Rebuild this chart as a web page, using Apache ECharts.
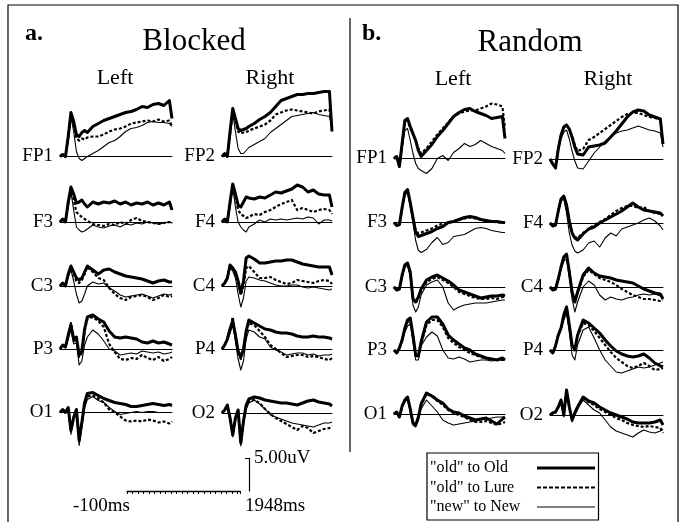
<!DOCTYPE html>
<html><head><meta charset="utf-8">
<script src="https://cdn.jsdelivr.net/npm/echarts@6/dist/echarts.min.js"></script>
<style>html,body{margin:0;padding:0;background:#fff}#c{width:684px;height:522px}</style>
</head><body><div id="c"></div>
<script>
// sample times (ms) shared by every trace
const TIMES = [-100,-50,0,50,100,150,200,250,300,350,400,500,600,700,800,900,1000,1100,1200,1300,1400,1500,1600,1700,1800,1900,1948];
// amplitudes in calibration units (33 units = the 5.00uV bar), up = as drawn
const PX_PER_UV = 33 / 5.0;

// ---- a. Blocked, Left hemisphere
const blkFP1_old  = [0,2,0,20,44,35,22,20,24,26,24,30,33,36,38,40,42,44,45,47,50,49,52,53,51,56,38];
const blkFP1_lure = [0,2,0,18,42,32,18,16,18,17,19,20,20,22,25,27,28,30,33,34,35,36,35,37,35,36,30];
const blkFP1_new  = [0,1,0,15,40,25,5,-2,-4,-2,0,3,6,10,14,16,20,25,28,29,31,34,35,34,34,33,30];
const blkF3_old  = [0,3,0,20,35,28,19,20,22,18,15,20,18,20,19,21,18,20,17,19,18,20,17,19,17,20,12];
const blkF3_lure = [0,3,0,18,33,22,10,7,5,3,1,-2,-3,-4,-2,-3,0,-2,2,4,1,0,-1,-2,-1,0,-2];
const blkF3_new  = [0,2,0,16,30,12,-5,-8,-10,-9,-7,-3,-5,-6,-4,-3,-5,-2,-3,-1,-2,0,-1,-2,-1,0,-1];
const blkC3_old  = [0,3,0,12,20,14,8,6,8,14,20,16,12,16,17,14,12,10,9,8,7,5,3,5,6,4,4];
const blkC3_lure = [0,3,0,11,19,12,5,3,6,12,19,14,8,6,-2,-8,-12,-14,-11,-10,-9,-11,-14,-12,-9,-11,-10];
const blkC3_new  = [0,2,0,9,16,5,-8,-17,-15,-8,0,4,2,3,-2,-5,-9,-11,-10,-9,-8,-10,-12,-10,-8,-9,-8];
const blkP3_old  = [0,4,2,14,24,10,12,-6,-2,20,32,34,30,27,18,12,11,12,11,10,7,6,8,6,7,5,4];
const blkP3_lure = [0,4,2,13,26,8,10,-8,-4,18,30,32,28,22,5,-3,-10,-11,-9,-10,-6,-9,-11,-8,-12,-10,-8];
const blkP3_new  = [0,3,1,10,20,5,6,-16,-12,4,12,19,15,8,0,-2,-6,-5,-4,-5,-2,-3,-4,-3,-5,-4,-3];
const blkO1_old  = [0,3,0,5,-18,-5,3,-28,-10,10,19,20,17,14,12,10,9,8,6,6,7,8,9,8,7,8,7];
const blkO1_lure = [0,3,0,5,-18,-5,3,-28,-10,8,16,17,14,10,3,0,-4,-8,-9,-8,-9,-7,-8,-10,-9,-11,-9];
const blkO1_new  = [0,2,0,4,-22,-6,2,-33,-14,5,13,16,12,10,5,1,-2,-1,0,1,0,1,1,0,0,0,0];
// ---- a. Blocked, Right hemisphere
const blkFP2_old  = [0,3,0,25,48,38,28,26,27,28,30,33,37,40,44,50,56,58,60,62,62,63,63,64,65,65,25];
const blkFP2_lure = [0,3,0,22,46,35,25,23,24,24,26,28,30,32,36,42,44,46,47,46,45,44,43,45,46,47,30];
const blkFP2_new  = [0,2,0,20,43,25,8,3,3,6,9,12,15,18,24,28,32,36,40,41,42,43,44,42,41,40,30];
const blkF4_old  = [0,3,0,20,38,28,17,15,20,25,24,23,25,24,27,30,29,31,33,37,35,30,32,28,27,27,15];
const blkF4_lure = [0,3,0,18,36,24,12,8,6,4,5,8,7,10,12,15,18,20,22,12,14,12,10,12,13,12,8];
const blkF4_new  = [0,2,0,16,34,15,0,-5,-8,-10,-5,-2,2,0,3,2,3,2,3,4,3,5,4,-2,2,2,1];
const blkC4_old  = [0,3,8,21,18,14,5,-7,5,28,30,27,23,23,24,25,25,26,26,24,22,21,20,19,19,19,11];
const blkC4_lure = [0,3,8,20,17,12,3,-9,0,18,20,14,8,8,9,6,4,2,3,6,5,4,3,5,6,5,2];
const blkC4_new  = [0,2,6,18,15,8,-8,-21,-12,5,9,8,6,5,3,1,0,0,1,1,-1,-2,-1,-2,-3,-4,-3];
const blkP4_old  = [0,4,10,20,28,14,-2,-8,0,18,29,26,23,20,19,17,16,16,15,13,12,12,13,12,12,11,10];
const blkP4_lure = [0,4,10,20,32,14,-4,-10,-2,16,26,24,18,12,4,0,-4,-8,-7,-6,-6,-8,-7,-8,-10,-11,-9];
const blkP4_new  = [0,3,8,16,24,8,-10,-21,-12,10,19,17,12,10,2,-1,-3,-6,-5,-4,-4,-6,-5,-7,-6,-6,-5];
const blkO2_old  = [0,3,8,-5,-22,-5,3,-30,-8,8,14,16,15,13,12,11,10,10,9,8,10,12,13,11,10,9,7];
const blkO2_lure = [0,3,8,-5,-22,-5,3,-30,-8,6,12,13,10,4,-1,-5,-8,-11,-14,-17,-13,-15,-20,-18,-16,-15,-13];
const blkO2_new  = [0,2,6,-7,-24,-6,2,-33,-12,4,10,13,9,4,-2,-4,-6,-8,-10,-11,-12,-13,-14,-12,-10,-10,-9];
// ---- b. Random, Left hemisphere
const rndFP1_old  = [0,2,-8,15,38,40,32,25,18,8,2,8,14,22,28,35,42,46,49,50,47,45,43,40,41,42,20];
const rndFP1_lure = [0,2,-8,14,36,38,30,24,18,10,5,10,17,24,30,36,42,45,47,48,48,50,52,55,54,52,30];
const rndFP1_new  = [0,1,-8,10,28,30,18,5,-5,-10,-12,-15,-10,0,3,-2,6,10,15,12,14,18,15,12,10,8,5];
const rndF3_old  = [0,-3,-2,15,30,33,20,5,-10,-14,-13,-11,-9,-6,-4,0,1,3,5,6,5,3,2,1,1,0,0];
const rndF3_lure = [0,-3,-2,14,29,32,19,4,-8,-11,-10,-8,-6,-3,-1,0,1,3,4,5,4,3,1,1,0,0,0];
const rndF3_new  = [0,-2,-2,13,27,30,15,0,-18,-28,-30,-27,-20,-15,-22,-20,-14,-13,-12,-9,-6,-5,-6,-8,-9,-10,-10];
const rndC3_old  = [0,-3,-2,12,22,24,15,-12,-15,-10,-2,7,10,12,9,6,2,-3,-5,-7,-9,-11,-10,-9,-9,-8,-9];
const rndC3_lure = [0,-3,-2,11,21,23,14,-12,-16,-11,-4,5,8,10,7,4,0,-5,-7,-9,-11,-12,-12,-11,-12,-10,-10];
const rndC3_new  = [0,-3,-2,10,20,22,10,-18,-25,-20,-8,2,5,7,0,-16,-23,-20,-18,-17,-16,-16,-16,-15,-14,-13,-13];
const rndP3_old  = [0,-3,2,10,22,30,32,15,-5,-6,8,28,33,33,26,15,10,6,2,0,-4,-6,-8,-9,-10,-8,-10];
const rndP3_lure = [0,-3,2,10,21,28,30,14,-6,-7,6,25,30,30,23,12,7,3,0,-3,-5,-7,-8,-9,-10,-10,-10];
const rndP3_new  = [0,-3,2,8,18,24,26,8,-10,-10,4,13,18,14,0,-8,-9,-7,-9,-12,-11,-10,-10,-11,-10,-10,-10];
const rndO1_old  = [0,2,-3,8,14,17,5,-9,-11,-3,10,21,18,14,11,5,2,1,-2,-4,-6,-5,-4,-7,-10,-5,-3];
const rndO1_lure = [0,2,-3,8,14,17,5,-9,-11,-4,9,20,18,13,9,4,1,-1,-3,-6,-8,-8,-7,-9,-11,-9,-8];
const rndO1_new  = [0,2,-3,7,12,15,3,-11,-13,-6,5,14,8,2,-6,-9,-11,-10,-9,-8,-7,-6,-5,-4,-3,-3,-3];
// ---- b. Random, Right hemisphere
const rndFP2_old  = [0,-5,-9,10,24,32,34,30,22,12,5,4,12,13,14,16,22,28,35,42,47,49,48,44,42,40,15];
const rndFP2_lure = [0,-5,-9,10,24,32,34,30,22,14,8,10,19,22,26,30,34,38,42,45,46,46,44,42,41,40,15];
const rndFP2_new  = [0,-5,-9,8,20,27,29,20,8,-2,-9,-10,-2,6,12,18,22,26,28,29,31,33,31,29,28,26,12];
const rndF4_old  = [0,-3,-2,12,24,27,18,2,-10,-15,-17,-11,-6,-4,0,3,6,9,12,16,20,16,13,12,11,10,7];
const rndF4_lure = [0,-3,-2,12,24,27,18,2,-10,-14,-15,-10,-6,-2,1,4,8,12,15,17,17,15,16,12,10,9,8];
const rndF4_new  = [0,-2,-2,10,22,24,10,-10,-22,-28,-30,-27,-20,-18,-24,-15,-10,-13,-6,-4,-2,0,3,5,2,-3,-7];
const rndC4_old  = [0,-3,-2,8,20,30,33,15,-5,-15,-5,12,19,14,11,10,9,7,6,5,4,1,-2,-4,-6,-7,-12];
const rndC4_lure = [0,-3,-2,8,20,30,33,15,-5,-15,-6,10,17,13,9,7,5,2,-2,-5,-8,-10,-12,-12,-13,-14,-13];
const rndC4_new  = [0,-2,-2,6,18,26,28,10,-12,-25,-15,0,6,2,-8,-13,-10,-12,-13,-11,-10,-8,-7,-8,-7,-9,-10];
const rndP4_old  = [0,-3,4,15,22,35,43,25,5,0,15,30,27,22,17,10,4,-1,-4,-6,-7,-6,-4,-8,-13,-16,-17];
const rndP4_lure = [0,-3,4,15,22,35,43,25,5,0,14,27,25,19,12,5,-2,-8,-12,-16,-18,-16,-13,-16,-20,-19,-18];
const rndP4_new  = [0,-3,3,13,20,30,37,18,-5,-10,5,20,23,12,0,-10,-16,-22,-23,-21,-19,-17,-18,-17,-15,-13,-12];
const rndO2_old  = [0,2,3,8,15,0,25,8,-5,2,8,18,14,12,8,5,2,0,-2,-4,-7,-8,-8,-8,-7,-5,-10];
const rndO2_lure = [0,2,3,8,15,0,25,8,-5,2,8,17,13,10,6,3,0,-3,-5,-8,-10,-11,-12,-11,-12,-13,-18];
const rndO2_new  = [0,2,3,7,13,-2,22,6,-7,0,6,15,10,5,2,-5,-12,-16,-18,-20,-22,-18,-15,-17,-18,-16,-14];

// calibration bar values
const CAL_TIME = [-100, 1948];
const CAL_UV = 5.0;

const NAME_OLD = '"old" to Old', NAME_LURE = '"old" to Lure', NAME_NEW = '"new" to New';

// layout (pixels) - columns and row baselines
const COLS = [
  {left:60,  width:112, bases:[156.5,222,286,349,412.5]},
  {left:222, width:110, bases:[156.5,222,286,349,413]},
  {left:394, width:111, bases:[158.5,222.5,287,350,414]},
  {left:550, width:113, bases:[159,223,287,350,415]}
];
const UP_PX = 70, DOWN_PX = 40;

const panels = [
  {col:0,row:0,label:'FP1',old:blkFP1_old,lure:blkFP1_lure,nw:blkFP1_new},
  {col:0,row:1,label:'F3', old:blkF3_old, lure:blkF3_lure, nw:blkF3_new},
  {col:0,row:2,label:'C3', old:blkC3_old, lure:blkC3_lure, nw:blkC3_new},
  {col:0,row:3,label:'P3', old:blkP3_old, lure:blkP3_lure, nw:blkP3_new},
  {col:0,row:4,label:'O1', old:blkO1_old, lure:blkO1_lure, nw:blkO1_new},
  {col:1,row:0,label:'FP2',old:blkFP2_old,lure:blkFP2_lure,nw:blkFP2_new},
  {col:1,row:1,label:'F4', old:blkF4_old, lure:blkF4_lure, nw:blkF4_new},
  {col:1,row:2,label:'C4', old:blkC4_old, lure:blkC4_lure, nw:blkC4_new},
  {col:1,row:3,label:'P4', old:blkP4_old, lure:blkP4_lure, nw:blkP4_new},
  {col:1,row:4,label:'O2', old:blkO2_old, lure:blkO2_lure, nw:blkO2_new},
  {col:2,row:0,label:'FP1',old:rndFP1_old,lure:rndFP1_lure,nw:rndFP1_new},
  {col:2,row:1,label:'F3', old:rndF3_old, lure:rndF3_lure, nw:rndF3_new},
  {col:2,row:2,label:'C3', old:rndC3_old, lure:rndC3_lure, nw:rndC3_new},
  {col:2,row:3,label:'P3', old:rndP3_old, lure:rndP3_lure, nw:rndP3_new},
  {col:2,row:4,label:'O1', old:rndO1_old, lure:rndO1_lure, nw:rndO1_new},
  {col:3,row:0,label:'FP2',old:rndFP2_old,lure:rndFP2_lure,nw:rndFP2_new},
  {col:3,row:1,label:'F4', old:rndF4_old, lure:rndF4_lure, nw:rndF4_new},
  {col:3,row:2,label:'C4', old:rndC4_old, lure:rndC4_lure, nw:rndC4_new},
  {col:3,row:3,label:'P4', old:rndP4_old, lure:rndP4_lure, nw:rndP4_new},
  {col:3,row:4,label:'O2', old:rndO2_old, lure:rndO2_lure, nw:rndO2_new}
];

const FONT = 'Liberation Serif';
const grids = [], xAxes = [], yAxes = [], series = [];
const toPairs = vals => TIMES.map((t, k) => [t, vals[k] / PX_PER_UV]);

panels.forEach((p, i) => {
  const c = COLS[p.col];
  const base = c.bases[p.row];
  grids.push({left:c.left, width:c.width, top:base - UP_PX, height:UP_PX + DOWN_PX, containLabel:false});
  xAxes.push({gridIndex:i, type:'value', min:TIMES[0], max:TIMES[TIMES.length-1],
    axisLine:{show:true, onZero:true, lineStyle:{color:'#000', width:1}},
    axisTick:{show:false}, axisLabel:{show:false}, splitLine:{show:false}});
  const lbl = p.label;
  yAxes.push({gridIndex:i, type:'value', min:-DOWN_PX / PX_PER_UV, max:UP_PX / PX_PER_UV,
    axisLine:{show:false}, axisTick:{show:false}, splitLine:{show:false},
    axisLabel:{show:true, margin:7, color:'#000', fontFamily:FONT, fontSize:19,
      formatter: v => Math.abs(v) < 1e-9 ? lbl : ''}});
  [[NAME_NEW, p.nw, {width:1.1}],
   [NAME_LURE, p.lure, {width:2.2, type:[3,2]}],
   [NAME_OLD, p.old, {width:3}]].forEach(([name, vals, ls], k) => {
    series.push({type:'line', name, xAxisIndex:i, yAxisIndex:i, data:toPairs(vals),
      symbol:'none', showSymbol:false, silent:true, z:2 + k, color:'#000',
      itemStyle:{color:'#000'},
      lineStyle:Object.assign({color:'#000', join:'round'}, ls)});
  });
});

// calibration bar grid
const ci = panels.length;
grids.push({left:127, width:113, top:458, height:CAL_UV * PX_PER_UV, containLabel:false});
xAxes.push({gridIndex:ci, type:'value', min:CAL_TIME[0], max:CAL_TIME[1], interval:100,
  axisLine:{show:true, onZero:false, lineStyle:{color:'#000', width:1.4}},
  axisTick:{show:true, length:3, lineStyle:{color:'#000', width:1}},
  axisLabel:{show:false}, splitLine:{show:false}});
yAxes.push({gridIndex:ci, type:'value', min:0, max:CAL_UV, position:'right', offset:9,
  axisLine:{show:true, onZero:false, lineStyle:{color:'#000', width:1.2}},
  axisTick:{show:true, inside:true, length:4, customValues:[CAL_UV], lineStyle:{color:'#000'}},
  axisLabel:{show:false}, splitLine:{show:false},
  name:CAL_UV.toFixed(2) + 'uV', nameLocation:'end', nameGap:0,
  nameTextStyle:{fontFamily:FONT, fontSize:19, color:'#000', align:'left', verticalAlign:'middle', padding:[0,0,0,5]}});
series.push({type:'line', xAxisIndex:ci, yAxisIndex:ci, data:[], silent:true});

const txt = (text, x, y, size, align, weight) => ({type:'text', silent:true,
  style:{text, x, y, fill:'#000', font:(weight||'normal') + ' ' + size + 'px "' + FONT + '"',
    textAlign:align, textVerticalAlign:'middle'}});

const hiddenSymbol = {opacity:0, color:'#000', borderWidth:0};
const option = {
  animation:false,
  backgroundColor:'#fff',
  color:['#000'],
  grid:grids, xAxis:xAxes, yAxis:yAxes, series,
  legend:{
    orient:'vertical', left:427, top:453, padding:[7,2,5,3], itemGap:3.5,
    itemWidth:58, itemHeight:13, align:'right', selectedMode:false,
    borderColor:'#000', borderWidth:1.2,
    formatter: n => '{a|' + n + '}',
    textStyle:{fontFamily:FONT, fontSize:16, color:'#000',
      rich:{a:{width:102, align:'left', fontFamily:FONT, fontSize:16, color:'#000'}}},
    data:[
      {name:NAME_OLD, itemStyle:hiddenSymbol, lineStyle:{width:3, type:'solid', color:'#000'}},
      {name:NAME_LURE, itemStyle:hiddenSymbol, lineStyle:{width:2.2, type:[4,2], color:'#000'}},
      {name:NAME_NEW, itemStyle:hiddenSymbol, lineStyle:{width:1, type:'solid', color:'#000'}}
    ]
  },
  graphic:[
    {type:'rect', silent:true, shape:{x:8, y:5, width:670, height:540}, style:{fill:'none', stroke:'#000', lineWidth:1.2}},
    {type:'line', silent:true, shape:{x1:350, y1:18, x2:350, y2:452}, style:{stroke:'#000', lineWidth:1.2}},
    txt('a.', 25, 34, 24, 'left', 'bold'),
    txt('b.', 362, 34, 24, 'left', 'bold'),
    txt('Blocked', 194, 41.5, 31, 'center'),
    txt('Random', 530, 42.5, 31, 'center'),
    txt('Left', 115, 78.5, 22, 'center'),
    txt('Right', 270, 78.5, 22, 'center'),
    txt('Left', 453, 79.5, 22, 'center'),
    txt('Right', 608, 79.5, 22, 'center'),
    txt(CAL_TIME[0] + 'ms', 130, 506, 19, 'right'),
    txt(CAL_TIME[1] + 'ms', 245, 506, 19, 'left')
  ]
};

const chart = echarts.init(document.getElementById('c'), null, {renderer:'canvas'});
chart.setOption(option);
</script>
</body></html>
